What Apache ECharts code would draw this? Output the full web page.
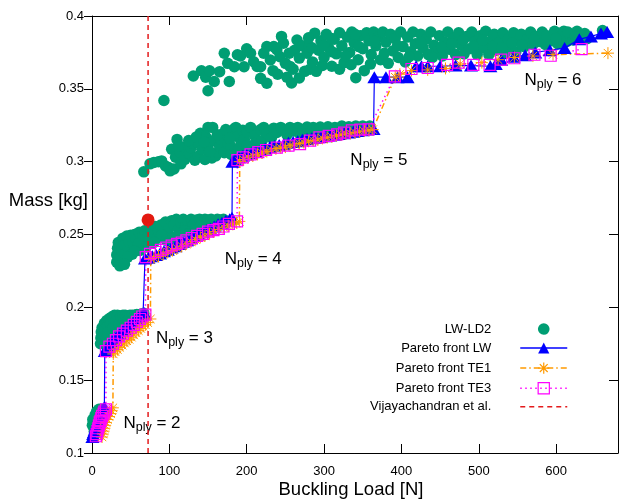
<!DOCTYPE html>
<html>
<head>
<meta charset="utf-8">
<script src="https://cdn.jsdelivr.net/npm/echarts@6/dist/echarts.min.js"></script>
<style>
  html, body { margin: 0; padding: 0; background: #ffffff; }
  #chart { width: 621px; height: 503px; }
</style>
</head>
<body>
<div id="chart"></div>
<script>
const FONT = '"Liberation Sans", Arial, Helvetica, sans-serif';

// Tick labels
const loadTicks = [0, 100, 200, 300, 400, 500, 600];
const massTicks = [0.1, 0.15, 0.2, 0.25, 0.3, 0.35, 0.4];

// LW-LD2 designs [buckling load N, mass kg], grouped by number of plies
const lwld2Ply2 = [
  [0.5,0.119],[1,0.123],[3,0.121],[4,0.126],[6,0.1285],[9,0.130],[12,0.130],[14,0.1295],
  [6,0.124],[9,0.126],[12,0.128],[3,0.115],[7,0.118]
];
const lwld2Ply3 = [
  [11,0.175],[11.5,0.179],[12,0.183],[13,0.186],[14,0.177],[15,0.181],[16,0.189],[17,0.185],
  [18,0.178],[19,0.191],[20,0.187],[21,0.183],[23,0.1925],[24,0.189],[26,0.1935],[27,0.186],
  [29,0.1945],[31,0.191],[33,0.1945],[35,0.1885],[37,0.194],[40,0.1945],[41,0.191],[43,0.1945],
  [46,0.194],[47,0.1915],[49,0.1945],[52,0.1945],[54,0.192],[55,0.1945],[58,0.195],[61,0.1945],
  [64,0.1955],[67,0.196]
];
const lwld2Ply4 = [
  [32,0.231],[32,0.236],[33,0.2405],[34,0.2445],[37,0.2335],[38,0.239],[40,0.2475],[42,0.243],
  [43,0.2365],[45,0.249],[47,0.2405],[48,0.245],[50,0.2495],[52,0.2365],[53,0.244],[55,0.250],
  [57,0.247],[59,0.2405],[61,0.2515],[63,0.2455],[66,0.2495],[68,0.2525],[71,0.245],[73,0.249],
  [76,0.2535],[79,0.2505],[82,0.2555],[84,0.2475],[86,0.252],[89,0.2565],[92,0.2535],[95,0.2585],
  [98,0.2505],[100,0.255],[103,0.2595],[106,0.2565],[109,0.2605],[112,0.2535],[115,0.258],[118,0.2605],
  [121,0.2555],[124,0.2595],[128,0.2605],[131,0.2565],[135,0.260],[139,0.2605],[142,0.2585],[146,0.2605],
  [150,0.260],[154,0.2605],[158,0.2595],[162,0.2605],[166,0.260],[170,0.2605],[60,0.2435],[90,0.2495],
  [120,0.2525],[140,0.2555],[160,0.257],[96,0.246],[104,0.2475],[110,0.249],[125,0.2505],[135,0.252],
  [150,0.2545],[165,0.2565],[80,0.2445],[70,0.2415],[62,0.239],[55,0.2385],[46,0.2345],[36,0.2285],
  [42,0.2295]
];
const lwld2Ply5 = [
  [67,0.293],[75,0.2985],[80,0.2995],[86,0.300],[90,0.3005],[95,0.297],[99,0.296],[101,0.2937],
  [106,0.295],[103,0.3085],[108,0.303],[110,0.3153],[114,0.3065],[115,0.2985],[120,0.310],[120,0.3016],
  [126,0.3055],[128,0.3095],[130,0.3125],[133,0.301],[137,0.313],[137,0.3037],[140,0.3195],[142,0.3085],
  [146,0.3015],[147,0.317],[150,0.3235],[150,0.3107],[155,0.3025],[156,0.3235],[157,0.3145],[160,0.304],
  [163,0.3064],[165,0.3105],[167,0.3153],[170,0.3195],[171,0.3062],[175,0.3185],[176,0.3125],[179.5,0.3105],
  [180,0.305],[184,0.3226],[185,0.3175],[186,0.3235],[190,0.3175],[190,0.309],[193,0.313],[195,0.3215],
  [197,0.3153],[200,0.3205],[200,0.311],[205,0.3235],[210,0.318],[210,0.312],[214,0.3135],[218,0.322],
  [220,0.3145],[222,0.3235],[226,0.3195],[232,0.3165],[235,0.323],[239,0.320],[244,0.3235],[248,0.3215],
  [252,0.3185],[256,0.3235],[261,0.321],[266,0.3235],[270,0.3175],[273,0.322],[278,0.3238],[282,0.3195],
  [286,0.3235],[291,0.3215],[295,0.3238],[300,0.3225],[305,0.324],[309,0.3205],[314,0.3235],[318,0.3225],
  [323,0.3245],[327,0.3235],[332,0.324],[337,0.3235],[341,0.3245],[346,0.3235],[350,0.3245],[355,0.3235],
  [359,0.3245],[112,0.311],[125,0.3145],[135,0.317],[145,0.3135],[152,0.307],[162,0.3185],[173,0.322],
  [178,0.316]
];
const lwld2Ply6 = [
  [93,0.342],[131,0.3588],[141.5,0.3624],[147,0.358],[150,0.3487],[152,0.3624],[158,0.355],[165,0.3618],
  [171,0.3744],[175.4,0.3675],[177.5,0.355],[184,0.3652],[188,0.3734],[192,0.3725],[196.6,0.3652],[200,0.3775],
  [205,0.3744],[209,0.3686],[213.5,0.3654],[218,0.3572],[218,0.3652],[222,0.3744],[226,0.3538],[226,0.379],
  [230.5,0.3698],[234,0.3625],[235,0.379],[239,0.3768],[240,0.360],[243,0.372],[247.5,0.3813],[250,0.3675],
  [252,0.358],[256,0.3654],[258,0.354],[262,0.3765],[265,0.3835],[268,0.3711],[268,0.3575],[272,0.3795],
  [275,0.362],[278,0.3745],[281,0.379],[282,0.3635],[285,0.3685],[288,0.3882],[290,0.362],[293,0.3765],
  [296,0.383],[298,0.366],[300,0.3715],[303,0.3875],[306,0.378],[310,0.3655],[313,0.384],[316,0.374],
  [320,0.3885],[320,0.3635],[323,0.3795],[326,0.368],[330,0.3855],[333,0.375],[335,0.3665],[336,0.389],
  [339,0.3815],[341,0.3576],[344,0.370],[347,0.3865],[350,0.3775],[352,0.3625],[355,0.3885],[358,0.383],
  [360,0.367],[361,0.3735],[364,0.389],[367,0.3795],[370,0.3855],[373,0.370],[376,0.389],[380,0.382],
  [383,0.3675],[386,0.3875],[389,0.376],[392,0.3845],[396,0.3715],[399,0.389],[402,0.379],[405,0.3685],
  [408,0.3855],[412,0.3755],[415,0.389],[418,0.381],[421,0.3725],[425,0.3875],[428,0.378],[432,0.384],
  [435,0.3735],[438,0.389],[442,0.380],[446,0.3755],[449,0.3865],[453,0.3725],[456,0.382],[460,0.389],
  [463,0.377],[467,0.3845],[470,0.3735],[474,0.3885],[477,0.380],[481,0.374],[484,0.386],[488,0.3775],
  [491,0.389],[495,0.3825],[498,0.3735],[502,0.3865],[506,0.378],[509,0.3895],[513,0.3735],[516,0.383],
  [520,0.3875],[523,0.3765],[527,0.382],[531,0.3885],[534,0.3745],[538,0.384],[541,0.379],[545,0.3885],
  [548,0.3755],[552,0.383],[555,0.3875],[559,0.379],[563,0.3845],[567,0.389],[570,0.3805],[574,0.386],
  [578,0.3825],[582,0.389],[586,0.3805],[590,0.386],[594,0.383],[598,0.3895],[602,0.381],[606,0.386],
  [610,0.3895],[614,0.3825],[618,0.387],[622,0.3835],[627,0.3895],[632,0.385],[637,0.388],[660,0.390],
  [245,0.386],[255,0.3745],[260,0.3635],[285,0.378],[300,0.380],[310,0.3755],[328,0.3725],[345,0.379],
  [365,0.3825],[378,0.3745],[395,0.3795],[410,0.372],[425,0.382],[440,0.3715],[452,0.3785],[465,0.381],
  [480,0.3835],[493,0.379],[505,0.3835],[518,0.379],[530,0.378],[543,0.3815],[556,0.380],[572,0.3835],
  [588,0.3865],[600,0.3845],[615,0.389],[625,0.386],[640,0.3845],[280,0.385],[310,0.3845],[340,0.3875]
];

// Pareto fronts [buckling load N, mass kg]
const paretoLW = [
  [0.5,0.111],[1.5,0.113],[2.5,0.1145],[3.5,0.116],[4.5,0.1175],[5.5,0.119],[6.5,0.1205],[7.5,0.122],
  [8.5,0.123],[9.5,0.1245],[10.5,0.1255],[11.5,0.127],[12.5,0.128],[13.5,0.129],[14.5,0.130],[16,0.1315],
  [16.5,0.170],[18,0.171],[20,0.1725],[22,0.174],[24,0.175],[26,0.1765],[28,0.178],[30,0.179],
  [33,0.1805],[36,0.182],[39,0.1835],[42,0.185],[45,0.186],[48,0.1875],[51,0.189],[54,0.190],
  [57,0.1915],[60,0.193],[63,0.194],[66,0.195],[68,0.196],
  [68.5,0.2335],[73,0.234],[78,0.235],[83,0.236],[88,0.237],[93,0.2385],[98,0.2395],[103,0.241],
  [108,0.242],[113,0.2435],[118,0.245],[123,0.246],[128,0.2475],[133,0.249],[138,0.250],[143,0.2515],
  [148,0.253],[153,0.254],[158,0.2555],[163,0.257],[168,0.258],[173,0.2595],[178,0.2605],[181,0.2615],
  [181.5,0.300],[185,0.3015],[190,0.303],[195,0.304],[200,0.305],[206,0.306],[212,0.307],[218,0.308],
  [224,0.309],[230,0.310],[236,0.311],[242,0.3115],[248,0.312],[254,0.313],[260,0.3135],[266,0.314],
  [272,0.315],[278,0.3155],[284,0.316],[290,0.3165],[296,0.317],[302,0.3175],[308,0.318],[314,0.3185],
  [320,0.319],[326,0.3195],[332,0.320],[338,0.3205],[344,0.321],[350,0.3215],[356,0.322],[364,0.3225],
  [365,0.358],[380,0.358],[395,0.358],[408,0.358],[419,0.3655],[426,0.3655],[434,0.3655],[450,0.3655],
  [470,0.366],[490,0.366],[515,0.3655],[522,0.367],[529,0.370],[545,0.372],[560,0.373],[573,0.375],
  [592,0.3765],[611,0.378],[630,0.384],[645,0.386],[658,0.388],[666,0.389]
];
const paretoTE1 = [
  [13,0.111],[14,0.113],[15,0.115],[16,0.117],[17,0.119],[18,0.121],[20,0.123],[22,0.125],
  [24,0.127],[25.5,0.129],[27,0.131],
  [27.5,0.168],[30,0.1695],[33,0.171],[36,0.1725],[39,0.174],[42,0.1755],[45,0.177],[48,0.178],
  [51,0.1795],[54,0.181],[57,0.1825],[60,0.184],[63,0.1855],[66,0.187],[69,0.188],[72,0.1895],
  [75.5,0.192],
  [76,0.2335],[80,0.234],[86,0.235],[92,0.2365],[98,0.238],[104,0.239],[110,0.2405],[116,0.242],
  [122,0.2435],[128,0.245],[134,0.2465],[140,0.248],[146,0.249],[152,0.2505],[158,0.252],[164,0.2535],
  [170,0.255],[176,0.256],[182,0.257],[187,0.258],[190.5,0.259],
  [191,0.300],[196,0.3015],[202,0.303],[208,0.304],[214,0.305],[220,0.306],[226,0.307],[232,0.308],
  [238,0.309],[244,0.3095],[250,0.310],[256,0.311],[262,0.312],[268,0.3125],[274,0.313],[280,0.314],
  [286,0.3145],[292,0.315],[298,0.316],[304,0.3165],[310,0.317],[316,0.318],[322,0.3185],[328,0.319],
  [334,0.3195],[340,0.320],[346,0.3205],[352,0.321],[358,0.3215],[363,0.322],
  [392,0.358],[398,0.360],[413,0.3625],[434,0.363],[457,0.364],[476,0.367],[504,0.368],[525,0.370],
  [546,0.3715],[570,0.3725],[596,0.3735],[667,0.3745]
];
const paretoTE3 = [
  [5,0.1115],[6,0.113],[7,0.115],[8,0.117],[9,0.119],[10,0.121],[11,0.122],[12,0.124],
  [13,0.1255],[15,0.127],[16,0.1285],[18,0.130],
  [18,0.170],[22.5,0.173],[27,0.175],[31,0.1775],[35,0.180],[40,0.182],[45,0.184],[50,0.186],
  [54,0.188],[58,0.190],[62,0.192],[65,0.1937],[69,0.195],
  [69.5,0.2345],[75,0.2367],[82,0.238],[89,0.2395],[96,0.241],[103,0.2424],[110,0.2435],[116,0.2445],
  [122,0.246],[129,0.2475],[136,0.249],[143,0.2504],[150,0.252],[157,0.253],[164,0.2538],[170,0.2555],
  [177,0.2573],[187.5,0.259],
  [188,0.301],[195,0.303],[205,0.305],[215,0.3065],[225,0.308],[239,0.3096],[254,0.311],[269,0.312],
  [282,0.3145],[294,0.3167],[306,0.3177],[317,0.3187],[326,0.320],[336,0.3215],[347,0.322],[357.6,0.3221],
  [391.5,0.3586],[413,0.3636],[434,0.3643],[459,0.3665],[474,0.368],[493,0.3665],[514,0.3665],[529,0.370],
  [546,0.371],[572,0.3734],[593,0.3727],[633,0.3773]
];

// Vijayachandran et al. reference design
const vijayLoad = 72.5;
const vijayMass = 0.26;
const vijayLine = [[vijayLoad, 0.1], [vijayLoad, 0.4]];

// Ply-count annotations, anchored in data space
const plyNotes = [
  { plies: '2', at: [40.7, 0.1206] },
  { plies: '3', at: [82.6, 0.179] },
  { plies: '4', at: [171.6, 0.2332] },
  { plies: '5', at: [334, 0.3011] },
  { plies: '6', at: [559, 0.356] }
];

const lwld2 = [].concat(lwld2Ply2, lwld2Ply3, lwld2Ply4, lwld2Ply5, lwld2Ply6);

const ASTERISK = 'path://M6,0L6,12M0,6L12,6M1.8,1.8L10.2,10.2M1.8,10.2L10.2,1.8';
const LEGEND_DOT = 'path://M0,0M12,12M6,1A5,5,0,1,1,5.99,1Z';

const chart = echarts.init(document.getElementById('chart'), null, { renderer: 'canvas' });

const axisLineStyle = { color: '#000000', width: 1 };
const tickLabel = { color: '#000000', fontSize: 13, fontFamily: FONT };

chart.setOption({
  animation: false,
  backgroundColor: '#ffffff',
  grid: { left: 92, right: -6, top: 16, bottom: 50, containLabel: false },
  xAxis: [
    {
      type: 'value', position: 'bottom', min: 0, max: 680, interval: 100,
      axisLine: { show: true, onZero: false, lineStyle: axisLineStyle },
      axisTick: { show: true, inside: true, length: 9, lineStyle: axisLineStyle },
      axisLabel: Object.assign({ margin: 12, formatter: v => loadTicks.includes(v) ? String(v) : '' }, tickLabel),
      splitLine: { show: false }
    },
    {
      type: 'value', position: 'top', min: 0, max: 680, interval: 100,
      axisLine: { show: true, onZero: false, lineStyle: axisLineStyle },
      axisTick: { show: true, inside: true, length: 9, lineStyle: axisLineStyle },
      axisLabel: { show: false },
      splitLine: { show: false }
    }
  ],
  yAxis: [
    {
      type: 'value', position: 'left', min: 0.1, max: 0.4, interval: 0.05,
      axisLine: { show: true, onZero: false, lineStyle: axisLineStyle },
      axisTick: { show: true, inside: false, length: 8, lineStyle: axisLineStyle },
      axisLabel: Object.assign({
        margin: 8,
        formatter: v => {
          const t = massTicks.find(m => Math.abs(m - v) < 1e-9);
          return t === undefined ? '' : String(t);
        }
      }, tickLabel),
      splitLine: { show: false }
    },
    {
      type: 'value', position: 'right', min: 0.1, max: 0.4, interval: 0.05,
      axisLine: { show: true, onZero: false, lineStyle: axisLineStyle },
      axisTick: { show: true, inside: true, length: 9, lineStyle: axisLineStyle },
      axisLabel: { show: false },
      splitLine: { show: false }
    }
  ],
  legend: {
    data: [
      { name: 'LW-LD2', icon: LEGEND_DOT },
      'Pareto front LW', 'Pareto front TE1', 'Pareto front TE3', 'Vijayachandran et al.'
    ],
    orient: 'vertical', align: 'right',
    right: 53, top: 322, padding: 0,
    itemWidth: 47, itemHeight: 14, itemGap: 5.5,
    selectedMode: false,
    itemStyle: { borderWidth: 1.2 },
    lineStyle: { width: 1.5 },
    textStyle: { color: '#000000', fontSize: 13, fontFamily: FONT, padding: [0, 24, 0, 0] }
  },
  series: [
    {
      name: 'LW-LD2', type: 'scatter', data: lwld2,
      symbol: 'circle', symbolSize: 11.5,
      itemStyle: { color: '#009e73', opacity: 1 }
    },
    {
      name: 'Pareto front LW', type: 'line', data: paretoLW,
      symbol: 'triangle', symbolSize: [14, 12],
      itemStyle: { color: '#0000ff', opacity: 1 },
      lineStyle: { color: '#0000ff', width: 1.2 }
    },
    {
      name: 'Pareto front TE1', type: 'line', data: paretoTE1,
      symbol: ASTERISK, symbolSize: 12,
      itemStyle: { color: 'none', borderColor: '#ff9a00', borderWidth: 1, opacity: 1 },
      lineStyle: { color: '#ff9a00', width: 1.5, type: [6, 3, 1.5, 3] }
    },
    {
      name: 'Pareto front TE3', type: 'line', data: paretoTE3,
      symbol: 'rect', symbolSize: 11,
      itemStyle: { color: 'rgba(0,0,0,0)', borderColor: '#ff00ff', borderWidth: 1.2, opacity: 1 },
      lineStyle: { color: '#ff00ff', width: 1.5, type: [1.5, 3.5] }
    },
    {
      name: 'Vijayachandran et al.', type: 'line', data: vijayLine,
      symbol: 'circle', symbolSize: 0,
      itemStyle: { color: 'rgba(0,0,0,0)' },
      lineStyle: { color: '#e41a1c', width: 1.5, type: [5, 4] }
    },
    {
      name: 'Vijayachandran design', type: 'scatter', data: [[vijayLoad, vijayMass]],
      symbol: 'circle', symbolSize: 13,
      itemStyle: { color: '#e3190f', opacity: 1 }
    }
  ]
});

// Annotations and axis titles
const noteRich = {
  n: { fontSize: 17, fontFamily: FONT, color: '#000000' },
  s: { fontSize: 12.5, fontFamily: FONT, color: '#000000', padding: [9, 0, 0, 0] }
};
const graphics = plyNotes.map(note => {
  const p = chart.convertToPixel({ gridIndex: 0 }, note.at);
  return {
    type: 'text', x: p[0], y: p[1], silent: true,
    style: {
      text: '{n|N}{s|ply}{n| = ' + note.plies + '}',
      rich: noteRich, align: 'left', verticalAlign: 'middle'
    }
  };
});
graphics.push({
  type: 'text', x: 88, y: 201, silent: true,
  style: { text: 'Mass [kg]', fontSize: 18.5, fontFamily: FONT, fill: '#000000', align: 'right', verticalAlign: 'middle' }
});
graphics.push({
  type: 'text', x: 351, y: 490, silent: true,
  style: { text: 'Buckling Load [N]', fontSize: 18.5, fontFamily: FONT, fill: '#000000', align: 'center', verticalAlign: 'middle' }
});
chart.setOption({ graphic: graphics });
</script>
</body>
</html>
